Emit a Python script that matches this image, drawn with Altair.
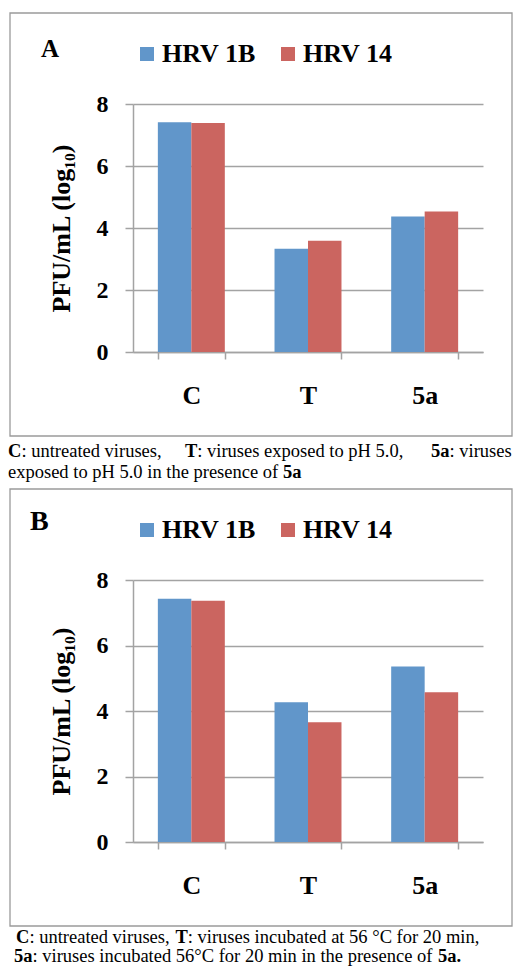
import altair as alt
import pandas as pd

# ---------------- data ----------------
categories = ["C", "T", "5a"]
series = ["HRV 1B", "HRV 14"]
colors = ["#6196CA", "#CB6560"]

a_hrv1b = [7.41, 3.33, 4.37]
a_hrv14 = [7.39, 3.59, 4.53]
b_hrv1b = [7.43, 4.27, 5.36]
b_hrv14 = [7.37, 3.66, 4.57]

y_ticks = [0, 2, 4, 6, 8]
y_title = "PFU/mL (log₁₀)"

# caption segments: (text, bold?)
a_cap1 = [("C", True), (": untreated viruses,", False), ("T", True),
          (": viruses exposed to pH 5.0,", False), ("5a", True), (": viruses", False)]
a_cap2 = [("exposed to pH 5.0 in the presence of", False), ("5a", True)]
b_cap1 = [("C", True), (": untreated viruses,", False), ("T", True),
          (": viruses incubated at 56 °C for 20 min,", False)]
b_cap2 = [("5a", True), (": viruses incubated 56°C for 20 min in the presence of", False),
          ("5a.", True)]

FONT = "Liberation Serif"
GRAY = "#a3a3a3"
BORDER = "#9a9a9a"
W = 350


def txt(s, x, y, size, bold):
    return alt.Chart(pd.DataFrame({"t": [s]})).mark_text(
        align="left", baseline="alphabetic", font=FONT, fontSize=size,
        fontWeight="bold" if bold else "normal", color="black"
    ).encode(x=alt.value(x), y=alt.value(y), text="t:N")


def caption(segs, xs, y):
    return [txt(s, x, y, 18.5, b) for (s, b), x in zip(segs, xs)]


def panel(letter, v1, v2, h, letter_xy, letter_size, caps):
    df = pd.DataFrame({
        "cat": categories * 2,
        "series": [series[0]] * 3 + [series[1]] * 3,
        "value": v1 + v2,
    })
    bars = alt.Chart(df).mark_bar().encode(
        x=alt.X("cat:N", sort=categories,
                scale=alt.Scale(paddingInner=0.426, paddingOuter=0.213),
                axis=alt.Axis(title=None, labelAngle=0, tickBand="extent", grid=False,
                              domainColor=GRAY, domainWidth=1.5, tickColor=GRAY,
                              tickWidth=1.5, tickSize=7, labelPadding=23,
                              labelFont=FONT, labelFontSize=26, labelFontWeight="bold",
                              labelColor="black")),
        xOffset=alt.XOffset("series:N", sort=series,
                            scale=alt.Scale(paddingInner=0, paddingOuter=0)),
        y=alt.Y("value:Q", scale=alt.Scale(domain=[0, 8], nice=False),
                axis=alt.Axis(values=y_ticks, title=y_title, grid=True,
                              gridColor=GRAY, gridWidth=1.5,
                              domainColor=GRAY, domainWidth=1.5, tickColor=GRAY,
                              tickWidth=1.5, tickSize=8, labelPadding=17,
                              labelFont=FONT, labelFontSize=24, labelFontWeight="bold",
                              labelColor="black", titleFont=FONT, titleFontSize=26,
                              titleFontWeight="bold", titleColor="black",
                              titlePadding=22)),
        color=alt.Color("series:N", sort=series,
                        scale=alt.Scale(domain=series, range=colors),
                        legend=alt.Legend(orient="none", legendX=1, legendY=-63,
                                          direction="horizontal", title=None,
                                          symbolType="square", symbolSize=196,
                                          symbolStrokeWidth=0, labelFont=FONT,
                                          labelFontSize=26, labelFontWeight="bold",
                                          labelColor="black", labelOffset=2,
                                          columnPadding=19, padding=0)),
    )
    border = alt.Chart(pd.DataFrame({"k": [0]})).mark_rect(
        fillOpacity=0, stroke=BORDER, strokeWidth=1.3
    ).encode(x=alt.value(-123), x2=alt.value(379), y=alt.value(-91),
             y2=alt.value(h + 84))
    lab = txt(letter, letter_xy[0], letter_xy[1], letter_size, True)
    layers = [border, bars, lab] + caps
    return alt.layer(*layers).properties(width=W, height=h)


pa = panel("A", a_hrv1b, a_hrv14, 248, (-92, -47), 25,
           caption(a_cap1, [-125, -111.6, 52, 64.3, 298, 316.5], 353)
           + caption(a_cap2, [-125, 149.9], 374))
pb = panel("B", b_hrv1b, b_hrv14, 262, (-103, -50), 28,
           caption(b_cap1, [-117, -103.6, 42.5, 54.8], 363)
           + caption(b_cap2, [-119, -100.5, 305], 382))

chart = alt.vconcat(pa, pb, spacing=6).resolve_scale(
    x="independent", y="independent", color="independent"
).resolve_legend(color="independent").properties(
    padding={"left": 0, "top": 4, "right": 0, "bottom": 0}
).configure_view(strokeWidth=0)

chart.save("out.html", embed_options={"renderer": "svg", "actions": False})
